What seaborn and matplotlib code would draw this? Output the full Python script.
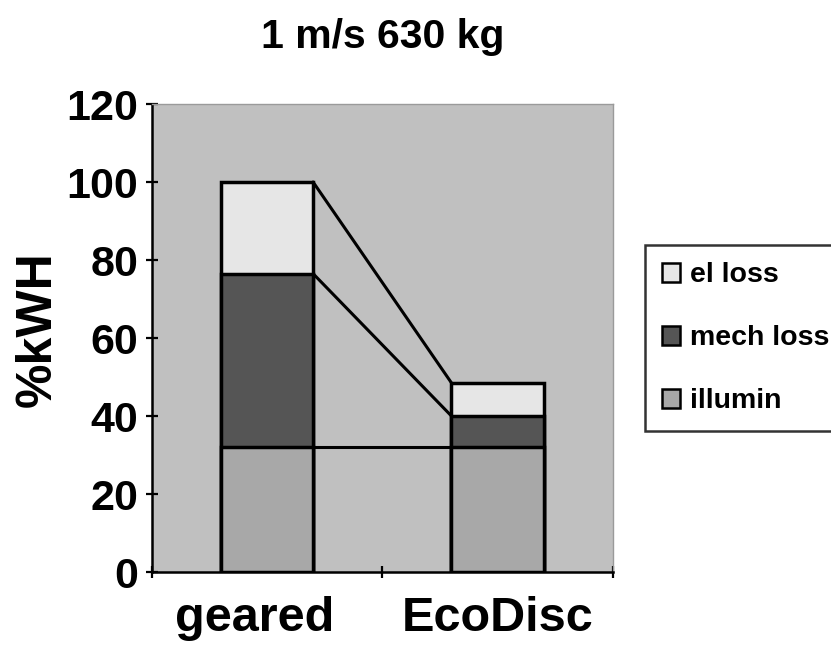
import matplotlib
matplotlib.use("Agg")
import matplotlib.pyplot as plt
from matplotlib.patches import Patch
from matplotlib.transforms import ScaledTranslation
import seaborn as sns
import numpy as np

# 資料
categories = ["geared", "EcoDisc"]
illumin = [32, 32]
mech_loss = [44.5, 8]
el_loss = [23.5, 8.5]
series_names = ["el loss", "mech loss", "illumin"]
series_colors = {"illumin": "#a8a8a8", "mech loss": "#555555", "el loss": "#e6e6e6"}
y_ticks = [0, 20, 40, 60, 80, 100, 120]

sns.set_style("ticks")
plt.rcParams["font.family"] = ["Liberation Sans", "DejaVu Sans"]
plt.rcParams["font.weight"] = "bold"
for k in ["text.color", "axes.labelcolor", "xtick.color", "ytick.color"]:
    plt.rcParams[k] = "black"

# 累積高度
lvl1 = np.array(illumin)
lvl2 = lvl1 + np.array(mech_loss)
lvl3 = lvl2 + np.array(el_loss)
bar_w = 0.4

fig = plt.figure(figsize=(8.31, 6.5), dpi=100)
ax = fig.add_axes([0.1825, 0.12, 0.555, 0.72])
ax.set_facecolor("#c0c0c0")

for tops, name in [(lvl3, "el loss"), (lvl2, "mech loss"), (lvl1, "illumin")]:
    sns.barplot(x=categories, y=tops, color=series_colors[name], saturation=1,
                width=bar_w, edgecolor="black", linewidth=2.5, ax=ax, zorder=3)

# series lines between bars
for tops in [lvl1, lvl2, lvl3]:
    ax.plot([0 + bar_w / 2, 1 - bar_w / 2], [tops[0], tops[1]], color="black", lw=2.2, zorder=2)

ax.set_xlim(-0.5, 1.5)
ax.set_ylim(0, 120)
ax.set_yticks(y_ticks)
ax.set_yticklabels([str(t) for t in y_ticks], fontsize=31, fontweight="bold")
ax.set_xticks([-0.5, 0.5, 1.5])
ax.set_xticklabels([])
ax.set_xticks([0, 1], minor=True)
ax.set_xticklabels(categories, minor=True, fontsize=35, fontweight="bold")
ax.tick_params(axis="x", which="minor", length=0, pad=17)
ax.tick_params(axis="both", which="major", direction="inout", length=9, width=1.6, color="black")
ax.tick_params(axis="y", pad=5)
# geared label sits a bit left of its bar in the reference
lbl = ax.get_xticklabels(minor=True)[0]
lbl.set_transform(lbl.get_transform() + ScaledTranslation(-0.12, 0, fig.dpi_scale_trans))
ax.set_xlabel("")
ax.set_ylabel("%kWH", fontsize=36, fontweight="bold")
ax.yaxis.set_label_coords(-0.197, 0.52)

for s in ["left", "bottom"]:
    ax.spines[s].set_color("black")
    ax.spines[s].set_linewidth(1.8)
for s in ["top", "right"]:
    ax.spines[s].set_color("#9a9a9a")
    ax.spines[s].set_linewidth(1)

ax.set_title("1 m/s 630 kg", fontsize=29.5, fontweight="bold", pad=40)

handles = [Patch(facecolor=series_colors[n], edgecolor="black", linewidth=1.8) for n in series_names]
leg = fig.legend(handles, series_names, loc="upper left", bbox_to_anchor=(0.776, 0.623),
                 frameon=True, fancybox=False, edgecolor="black", fontsize=20.5,
                 handlelength=0.65, handleheight=0.65, handletextpad=0.35,
                 labelspacing=1.3, borderpad=0.6, borderaxespad=0)
leg.get_frame().set_linewidth(1.8)
for t in leg.get_texts():
    t.set_fontweight("bold")

plt.savefig("out.png", dpi=100)
plt.close()
